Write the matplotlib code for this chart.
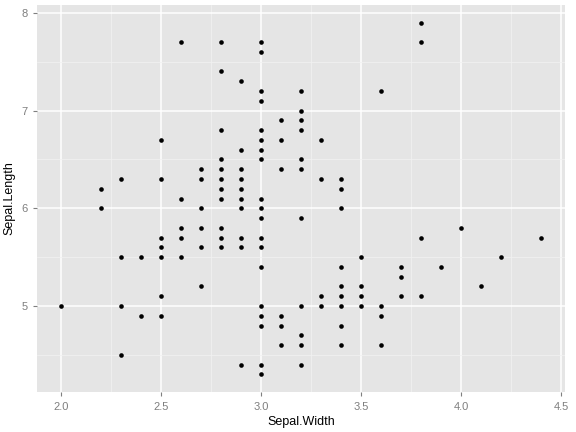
import matplotlib
matplotlib.use("Agg")
import matplotlib.pyplot as plt
from matplotlib.ticker import MultipleLocator

plt.rcParams["font.family"] = ["Liberation Sans", "DejaVu Sans"]

# iris: sepal length / sepal width
sepal_length = [
    5.1, 4.9, 4.7, 4.6, 5.0, 5.4, 4.6, 5.0, 4.4, 4.9, 5.4, 4.8, 4.8, 4.3, 5.8, 5.7, 5.4, 5.1, 5.7, 5.1,
    5.4, 5.1, 4.6, 5.1, 4.8, 5.0, 5.0, 5.2, 5.2, 4.7, 4.8, 5.4, 5.2, 5.5, 4.9, 5.0, 5.5, 4.9, 4.4, 5.1,
    5.0, 4.5, 4.4, 5.0, 5.1, 4.8, 5.1, 4.6, 5.3, 5.0,
    7.0, 6.4, 6.9, 5.5, 6.5, 5.7, 6.3, 4.9, 6.6, 5.2, 5.0, 5.9, 6.0, 6.1, 5.6, 6.7, 5.6, 5.8, 6.2, 5.6,
    5.9, 6.1, 6.3, 6.1, 6.4, 6.6, 6.8, 6.7, 6.0, 5.7, 5.5, 5.5, 5.8, 6.0, 5.4, 6.0, 6.7, 6.3, 5.6, 5.5,
    5.5, 6.1, 5.8, 5.0, 5.6, 5.7, 5.7, 6.2, 5.1, 5.7,
    6.3, 5.8, 7.1, 6.3, 6.5, 7.6, 4.9, 7.3, 6.7, 7.2, 6.5, 6.4, 6.8, 5.7, 5.8, 6.4, 6.5, 7.7, 7.7, 6.0,
    6.9, 5.6, 7.7, 6.3, 6.7, 7.2, 6.2, 6.1, 6.4, 7.2, 7.4, 7.9, 6.4, 6.3, 6.1, 7.7, 6.3, 6.4, 6.0, 6.9,
    6.7, 6.9, 5.8, 6.8, 6.7, 6.7, 6.3, 6.5, 6.2, 5.9,
]
sepal_width = [
    3.5, 3.0, 3.2, 3.1, 3.6, 3.9, 3.4, 3.4, 2.9, 3.1, 3.7, 3.4, 3.0, 3.0, 4.0, 4.4, 3.9, 3.5, 3.8, 3.8,
    3.4, 3.7, 3.6, 3.3, 3.4, 3.0, 3.4, 3.5, 3.4, 3.2, 3.1, 3.4, 4.1, 4.2, 3.1, 3.2, 3.5, 3.6, 3.0, 3.4,
    3.5, 2.3, 3.2, 3.5, 3.8, 3.0, 3.8, 3.2, 3.7, 3.3,
    3.2, 3.2, 3.1, 2.3, 2.8, 2.8, 3.3, 2.4, 2.9, 2.7, 2.0, 3.0, 2.2, 2.9, 2.9, 3.1, 3.0, 2.7, 2.2, 2.5,
    3.2, 2.8, 2.5, 2.8, 2.9, 3.0, 2.8, 3.0, 2.9, 2.6, 2.4, 2.4, 2.7, 2.7, 3.0, 3.4, 3.1, 2.3, 3.0, 2.5,
    2.6, 3.0, 2.6, 2.3, 2.7, 3.0, 2.9, 2.9, 2.5, 2.8,
    3.3, 2.7, 3.0, 2.9, 3.0, 3.0, 2.5, 2.9, 2.5, 3.6, 3.2, 2.7, 3.0, 2.5, 2.8, 3.2, 3.0, 3.8, 2.6, 2.2,
    3.2, 2.8, 2.8, 2.7, 3.3, 3.2, 2.8, 3.0, 2.8, 3.0, 2.8, 3.8, 2.8, 2.8, 2.6, 3.0, 3.4, 3.1, 3.0, 3.1,
    3.1, 3.1, 2.7, 3.2, 3.3, 3.0, 2.5, 3.0, 3.4, 3.0,
]

# drop duplicate points so overlaps do not look heavier
pts = sorted(set(zip(sepal_width, sepal_length)))
xs = [p[0] for p in pts]
ys = [p[1] for p in pts]

fig = plt.figure(figsize=(5.76, 4.32), dpi=100)
ax = fig.add_axes([37 / 576, 40 / 432, 528 / 576, 387 / 432])
ax.set_facecolor("#e5e5e5")
ax.scatter(xs, ys, s=11, color="black", zorder=3, linewidths=0)

ax.set_xlim(1.88, 4.52)
ax.set_ylim(4.12, 8.08)
ax.xaxis.set_major_locator(MultipleLocator(0.5))
ax.xaxis.set_minor_locator(MultipleLocator(0.25))
ax.yaxis.set_major_locator(MultipleLocator(1))
ax.yaxis.set_minor_locator(MultipleLocator(0.5))
ax.grid(True, which="major", color="white", lw=1.1, zorder=0)
ax.grid(True, which="minor", color="#f2f2f2", lw=0.5, zorder=0)
ax.set_axisbelow(True)
for s in ax.spines.values():
    s.set_visible(False)
ax.tick_params(which="both", length=0, labelsize=8, labelcolor="#7f7f7f", pad=4)
ax.tick_params(which="major", length=3, color="#7f7f7f")
ax.xaxis.set_major_formatter(plt.FuncFormatter(lambda v, p: f"{v:.1f}"))
ax.yaxis.set_major_formatter(plt.FuncFormatter(lambda v, p: f"{v:.0f}"))
ax.set_xlabel("Sepal.Width", fontsize=9, labelpad=3)
ax.set_ylabel("Sepal.Length", fontsize=9, labelpad=4)

fig.savefig("out.png", dpi=100)
